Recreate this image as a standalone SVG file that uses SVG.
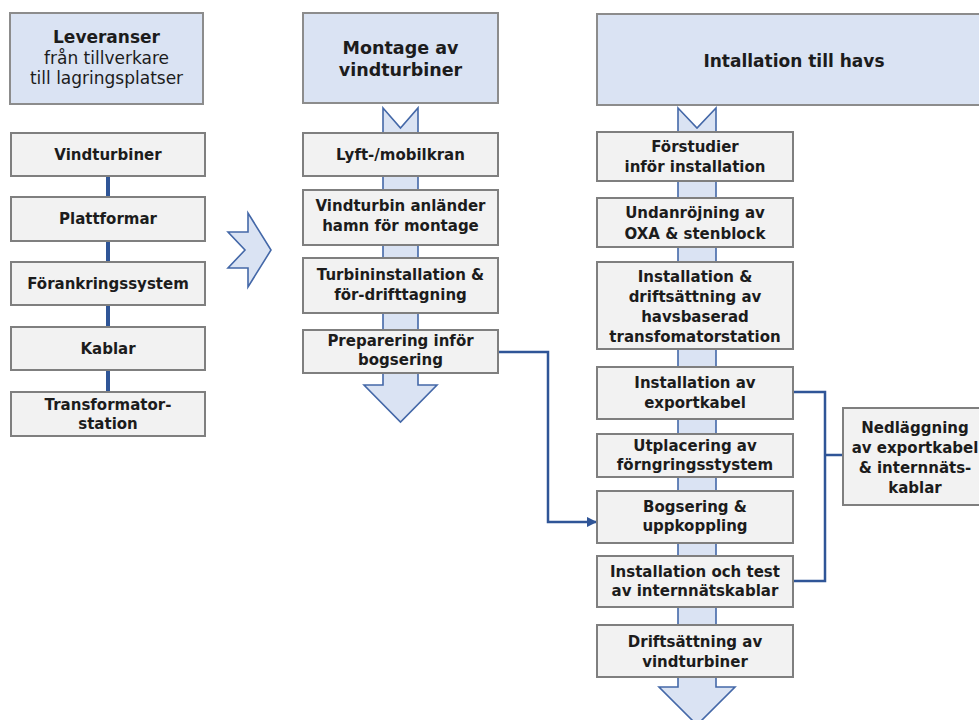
<svg xmlns="http://www.w3.org/2000/svg" width="979" height="720" viewBox="0 0 979 720">
<defs>
<style>
.hdr{fill:#dae3f3;stroke:#8c8c8c;stroke-width:2}
.box{fill:#f2f2f2;stroke:#7f7f7f;stroke-width:2}
.flow{fill:#dae3f3;stroke:#4468a8;stroke-width:1.6;stroke-linejoin:miter}
.t{font-family:"DejaVu Sans","Liberation Sans",sans-serif;font-weight:bold;font-size:15px;fill:#1c1c1c;text-anchor:middle}
.h{font-family:"DejaVu Sans","Liberation Sans",sans-serif;font-weight:bold;font-size:17px;fill:#1c1c1c;text-anchor:middle}
.hs{font-family:"DejaVu Sans","Liberation Sans",sans-serif;font-weight:normal;font-size:17px;fill:#1c1c1c;text-anchor:middle}
.con{fill:none;stroke:#2f5597;stroke-width:2.5}
.bar{fill:#2f5597}
</style>
<marker id="ah" viewBox="0 0 10 10" refX="9" refY="5" markerWidth="4.2" markerHeight="4.2" markerUnits="strokeWidth" orient="auto">
<path d="M0,0 L10,5 L0,10 Z" fill="#2f5597"/>
</marker>
</defs>
<rect width="979" height="720" fill="#ffffff"/>

<!-- big flow arrows (background) -->
<g id="flow-arrows">
<path class="flow" d="M383,108 L400.5,128 L418,108 L418,385 L437,385 L400.5,422 L364,385 L383,385 Z"/>
<path class="flow" d="M678,108 L697,128 L716,108 L716,687 L735,687 L697,725 L659,687 L678,687 Z"/>
<path class="flow" d="M228,232 L248,232 L248,213 L271,250 L248,287 L248,268 L228,268 L245,250 Z"/>
</g>

<!-- connectors -->
<g id="connectors">
<rect class="bar" x="106" y="176" width="4" height="21"/>
<rect class="bar" x="106" y="241" width="4" height="21"/>
<rect class="bar" x="106" y="305" width="4" height="22"/>
<rect class="bar" x="106" y="370" width="4" height="22"/>
<path class="con" d="M498,352 H548 V522 H596" marker-end="url(#ah)"/>
<path class="con" d="M793,392 H825 V581 H793"/>
<path class="con" d="M825,455 H843"/>
</g>

<!-- left column -->
<g id="hdr-leveranser">
<rect class="hdr" x="10" y="13" width="193" height="91"/>
<text class="h" x="106.5" y="43">Leveranser</text>
<text class="hs" x="106.5" y="64">från tillverkare</text>
<text class="hs" x="106.5" y="84">till lagringsplatser</text>
</g>
<g id="n-vindturbiner"><rect class="box" x="11" y="133" width="194" height="43"/><text class="t" x="108" y="160">Vindturbiner</text></g>
<g id="n-plattformar"><rect class="box" x="11" y="197" width="194" height="44"/><text class="t" x="108" y="224">Plattformar</text></g>
<g id="n-forankring"><rect class="box" x="11" y="262" width="194" height="43"/><text class="t" x="108" y="289">Förankringssystem</text></g>
<g id="n-kablar"><rect class="box" x="11" y="327" width="194" height="43"/><text class="t" x="108" y="354">Kablar</text></g>
<g id="n-transformator"><rect class="box" x="11" y="392" width="194" height="44"/><text class="t" x="108" y="410">Transformator-</text><text class="t" x="108" y="429">station</text></g>

<!-- middle column -->
<g id="hdr-montage">
<rect class="hdr" x="303" y="13" width="195" height="90"/>
<text class="h" x="400.5" y="54" style="font-size:17.5px">Montage av</text>
<text class="h" x="400.5" y="76" style="font-size:17.5px">vindturbiner</text>
</g>
<g id="n-lyft"><rect class="box" x="303" y="133" width="195" height="43"/><text class="t" x="400.5" y="160">Lyft-/mobilkran</text></g>
<g id="n-anlander"><rect class="box" x="303" y="190" width="195" height="55"/><text class="t" x="400.5" y="211">Vindturbin anländer</text><text class="t" x="400.5" y="231">hamn för montage</text></g>
<g id="n-turbininst"><rect class="box" x="303" y="258" width="195" height="55"/><text class="t" x="400.5" y="280">Turbininstallation &amp;</text><text class="t" x="400.5" y="300">för-drifttagning</text></g>
<g id="n-preparering"><rect class="box" x="303" y="330" width="195" height="43"/><text class="t" x="400.5" y="346">Preparering inför</text><text class="t" x="400.5" y="365">bogsering</text></g>

<!-- right column -->
<g id="hdr-installation">
<rect class="hdr" x="597" y="14" width="394" height="91"/>
<text class="h" x="794" y="67">Intallation till havs</text>
</g>
<g id="n-forstudier"><rect class="box" x="597" y="132" width="196" height="49"/><text class="t" x="695" y="152">Förstudier</text><text class="t" x="695" y="172">inför installation</text></g>
<g id="n-undanrojning"><rect class="box" x="597" y="198" width="196" height="49"/><text class="t" x="695" y="218">Undanröjning av</text><text class="t" x="695" y="239">OXA &amp; stenblock</text></g>
<g id="n-transfstation"><rect class="box" x="597" y="262" width="196" height="87"/><text class="t" x="695" y="282">Installation &amp;</text><text class="t" x="695" y="302">driftsättning av</text><text class="t" x="695" y="322">havsbaserad</text><text class="t" x="695" y="342">transfomatorstation</text></g>
<g id="n-exportkabel"><rect class="box" x="597" y="367" width="196" height="52"/><text class="t" x="695" y="388">Installation av</text><text class="t" x="695" y="408">exportkabel</text></g>
<g id="n-utplacering"><rect class="box" x="597" y="434" width="196" height="43"/><text class="t" x="695" y="451">Utplacering av</text><text class="t" x="695" y="470">förngringsstystem</text></g>
<g id="n-bogsering"><rect class="box" x="597" y="491" width="196" height="52"/><text class="t" x="695" y="512">Bogsering &amp;</text><text class="t" x="695" y="531">uppkoppling</text></g>
<g id="n-internnat"><rect class="box" x="597" y="556" width="196" height="51"/><text class="t" x="695" y="577">Installation och test</text><text class="t" x="695" y="596">av internnätskablar</text></g>
<g id="n-driftsattning"><rect class="box" x="597" y="625" width="196" height="52"/><text class="t" x="695" y="647">Driftsättning av</text><text class="t" x="695" y="667">vindturbiner</text></g>

<g id="n-nedlaggning"><rect class="box" x="843" y="408" width="144" height="97"/><text class="t" x="915" y="433">Nedläggning</text><text class="t" x="915" y="453">av exportkabel</text><text class="t" x="915" y="473">&amp; internnäts-</text><text class="t" x="915" y="493">kablar</text></g>
</svg>
